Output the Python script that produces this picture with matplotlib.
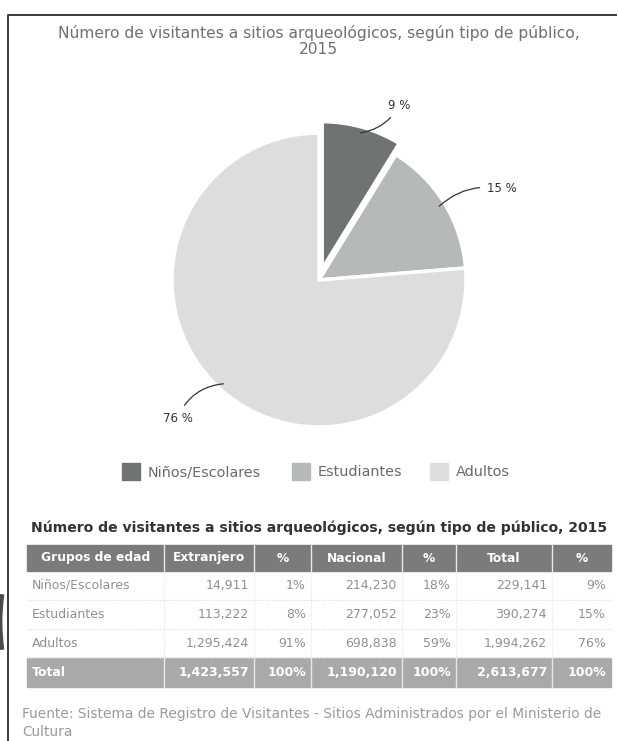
import numpy as np
import matplotlib
matplotlib.use('Agg')
import matplotlib.pyplot as plt
from matplotlib.patches import Rectangle, Arc

grupos = ['Niños/Escolares', 'Estudiantes', 'Adultos']
extranjero = [14911, 113222, 1295424]
pct_extranjero = [1, 8, 91]
nacional = [214230, 277052, 698838]
pct_nacional = [18, 23, 59]
total = [229141, 390274, 1994262]
pct_total = [9, 15, 76]
fila_total = ['Total', 1423557, 100, 1190120, 100, 2613677, 100]
encabezados = ['Grupos de edad', 'Extranjero', '%', 'Nacional', '%', 'Total', '%']

colores = ['#6f7471', '#b6bab7', '#dcdedd']
titulo = 'Número de visitantes a sitios arqueológicos, según tipo de público,\n2015'
titulo_tabla = 'Número de visitantes a sitios arqueológicos, según tipo de público, 2015'
fuente = ('Fuente: Sistema de Registro de Visitantes - Sitios Administrados por el Ministerio de\n'
          'Cultura')

W, H = 619, 741
fig = plt.figure(figsize=(W / 100, H / 100), dpi=100)

# fondo en pixeles
bg = fig.add_axes([0, 0, 1, 1])
bg.set_xlim(0, W)
bg.set_ylim(H, 0)
bg.axis('off')

# marco
bg.plot([8, 8, 616], [H, 15, 15], color='#3a3a3a', lw=1.4)
bg.add_patch(Arc((50, 622), 100, 200, theta1=150, theta2=210, color='#4a4a4a', lw=3.5))

bg.text(319, 41, titulo, ha='center', va='center', fontsize=11.2, color='#707070',
        linespacing=1.15)

# pie
cx, cy, r = 319, 280, 147
ax = fig.add_axes([(cx - r) / W, (H - cy - r) / H, 2 * r / W, 2 * r / H])
wedges, _ = ax.pie(total, colors=colores, startangle=90, counterclock=False,
                   explode=[0.08, 0, 0], radius=1,
                   wedgeprops=dict(edgecolor='white', linewidth=2.5))
ax.set_xlim(-1, 1)
ax.set_ylim(-1, 1)
ax.set_aspect('equal')
ax.axis('off')

etiquetas = [(0.47, 1.19, 'left', -0.25), (1.14, 0.62, 'left', 0.25), (-0.86, -0.94, 'right', -0.3)]
for w, p, (tx, ty, ha, rad) in zip(wedges, pct_total, etiquetas):
    ang = np.deg2rad((w.theta1 + w.theta2) / 2)
    x0 = w.center[0] + np.cos(ang) * 0.96
    y0 = w.center[1] + np.sin(ang) * 0.96
    ax.annotate(f'{p} %', xy=(x0, y0), xytext=(tx, ty), ha=ha, va='center',
                fontsize=8.5, color='#333',
                arrowprops=dict(arrowstyle='-', color='#333', lw=0.9,
                                connectionstyle=f'arc3,rad={rad}', shrinkA=3, shrinkB=0),
                annotation_clip=False)

# leyenda
ley_x = [122, 292, 430]
for x, g, c in zip(ley_x, grupos, colores):
    bg.add_patch(Rectangle((x, 463), 18, 17, color=c))
    bg.text(x + 26, 472, g, ha='left', va='center', fontsize=10.4, color='#6a6a6a')

# tabla
bg.text(31, 528, titulo_tabla, ha='left', va='center', fontsize=10.1, color='#333',
        fontweight='bold')
cols = [27, 164, 254, 311, 402, 456, 552, 611]
y_head, h_head, h_row = 545, 26, 29
bg.add_patch(Rectangle((cols[0], y_head), cols[-1] - cols[0], h_head, color='#7b7b7b'))
for i, e in enumerate(encabezados):
    bg.text((cols[i] + cols[i + 1]) / 2, y_head + h_head / 2, e, ha='center', va='center',
            fontsize=8.8, color='white', fontweight='bold')

filas = []
for i in range(3):
    filas.append([grupos[i], f'{extranjero[i]:,}', f'{pct_extranjero[i]}%',
                  f'{nacional[i]:,}', f'{pct_nacional[i]}%', f'{total[i]:,}', f'{pct_total[i]}%'])
filas.append([fila_total[0]] + [f'{v:,}' if j % 2 == 0 else f'{v}%'
                                 for j, v in enumerate(fila_total[1:])])

y = y_head + h_head
for k, fila in enumerate(filas):
    es_total = k == 3
    if es_total:
        bg.add_patch(Rectangle((cols[0], y), cols[-1] - cols[0], h_row, color='#a9a9a9'))
    else:
        bg.plot([cols[0], cols[-1]], [y + h_row, y + h_row], color='#d8d8d8', lw=0.8, ls=':')
    for i, v in enumerate(fila):
        estilo = dict(va='center', fontsize=9, color='white' if es_total else '#909090',
                      fontweight='bold' if es_total else 'normal')
        if i == 0:
            bg.text(cols[0] + 5, y + h_row / 2, v, ha='left', **estilo)
        else:
            bg.text(cols[i + 1] - 5, y + h_row / 2, v, ha='right', **estilo)
    y += h_row

for x in cols[1:-1]:
    bg.plot([x, x], [y_head, y_head + h_head], color='#e8e8e8', lw=1)
    bg.plot([x, x], [y_head + h_head, y - h_row], color='#e0e0e0', lw=0.7, ls=':')
    bg.plot([x, x], [y - h_row, y], color='#e8e8e8', lw=1)

bg.text(22, 723, fuente, ha='left', va='center', fontsize=9.9, color='#9a9a9a',
        linespacing=1.4)

fig.savefig('out.png', dpi=100)
